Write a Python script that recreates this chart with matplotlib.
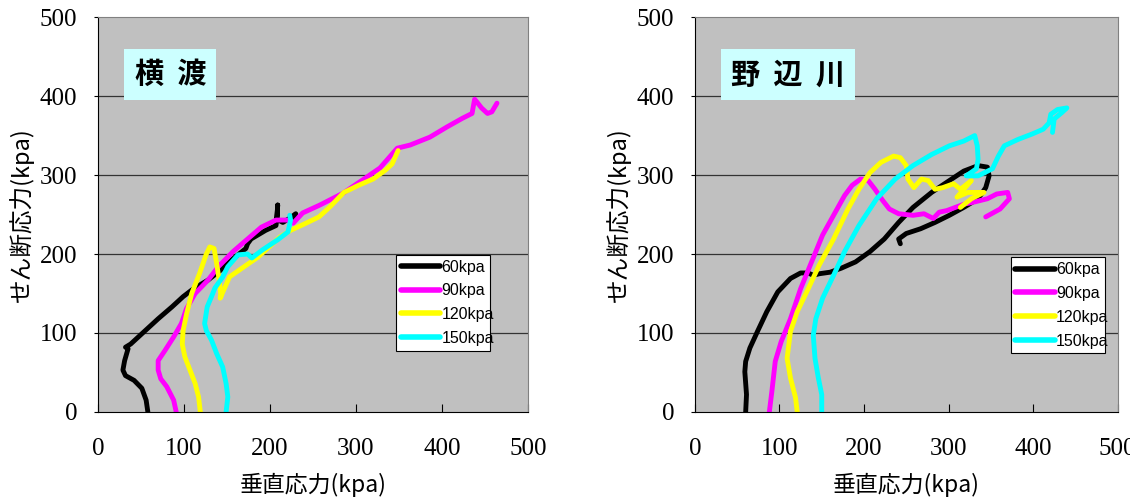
import matplotlib
matplotlib.use("Agg")
import matplotlib.pyplot as plt

plt.rcParams['font.family'] = ['Noto Sans CJK JP', 'DejaVu Sans']

labels = ['60kpa', '90kpa', '120kpa', '150kpa']
colors = ['#000000', '#ff00ff', '#ffff00', '#00ffff']

# 横渡 (left)
yoko_60_x = [58, 56, 51, 42, 32, 29, 31, 35, 32, 38, 53, 70, 86, 99, 111, 128, 142, 157, 172, 174, 178, 195, 207, 208, 209, 208, 215, 224, 230, 228]
yoko_60_y = [0, 15, 30, 40, 46, 53, 65, 80, 82, 86, 101, 118, 133, 146, 156, 167, 179, 194, 207, 213, 219, 230, 236, 244, 262, 244, 240, 246, 251, 246]
yoko_90_x = [91, 88, 80, 73, 70, 70, 78, 88, 97, 103, 113, 128, 140, 157, 174, 190, 207, 220, 227, 238, 258, 285, 308, 328, 348, 363, 386, 406, 424, 435, 438, 441, 446, 453, 458, 464]
yoko_90_y = [0, 15, 32, 42, 53, 65, 78, 95, 112, 131, 150, 167, 184, 203, 219, 234, 243, 243, 239, 252, 262, 277, 294, 309, 334, 338, 348, 361, 372, 378, 396, 392, 385, 378, 380, 391]
yoko_120_x = [119, 117, 113, 107, 101, 98, 99, 103, 109, 118, 126, 130, 135, 138, 141, 143, 142, 153, 170, 186, 199, 211, 224, 240, 257, 270, 286, 303, 320, 334, 342, 349]
yoko_120_y = [0, 19, 36, 53, 70, 86, 103, 124, 150, 175, 200, 209, 207, 188, 167, 146, 144, 171, 184, 196, 209, 221, 230, 238, 247, 260, 278, 287, 295, 306, 314, 331]
yoko_150_x = [149, 151, 149, 145, 138, 132, 126, 124, 127, 132, 136, 138, 145, 151, 163, 174, 179, 191, 209, 221, 224, 223]
yoko_150_y = [0, 19, 36, 57, 74, 91, 103, 112, 133, 146, 157, 160, 171, 184, 199, 200, 195, 205, 218, 228, 243, 249]

# 野辺川 (right)
nobe_60_x = [60, 61, 59, 60, 65, 74, 85, 98, 113, 125, 134, 140, 147, 160, 173, 190, 207, 224, 241, 258, 280, 301, 318, 335, 346, 348, 344, 335, 318, 301, 284, 267, 250, 241, 243]
nobe_60_y = [0, 22, 51, 64, 81, 102, 127, 152, 169, 176, 176, 173, 175, 177, 182, 190, 203, 219, 240, 259, 278, 293, 305, 312, 310, 299, 284, 270, 259, 249, 240, 232, 226, 219, 213]
nobe_90_x = [88, 91, 95, 102, 113, 125, 138, 151, 164, 177, 186, 196, 205, 213, 222, 230, 241, 258, 271, 282, 289, 298, 308, 318, 331, 346, 357, 370, 372, 361, 344]
nobe_90_y = [0, 26, 64, 89, 118, 156, 190, 224, 249, 274, 287, 295, 293, 282, 268, 257, 251, 249, 251, 245, 253, 255, 259, 263, 266, 270, 276, 278, 270, 257, 247]
nobe_120_x = [121, 119, 113, 109, 113, 121, 134, 147, 164, 181, 194, 207, 220, 235, 243, 250, 252, 259, 268, 276, 284, 293, 306, 314, 327, 310, 323, 342, 327, 314]
nobe_120_y = [0, 18, 43, 68, 102, 127, 156, 186, 219, 257, 282, 303, 316, 324, 322, 312, 295, 284, 295, 293, 282, 284, 289, 282, 293, 272, 278, 278, 270, 259]
nobe_150_x = [150, 150, 146, 142, 140, 143, 151, 164, 177, 194, 215, 237, 258, 280, 301, 318, 331, 334, 335, 333, 321, 335, 352, 359, 366, 382, 399, 412, 419, 421, 429, 440, 434, 425, 423]
nobe_150_y = [0, 22, 43, 68, 97, 118, 144, 173, 203, 236, 270, 295, 312, 326, 337, 343, 350, 337, 320, 308, 299, 299, 308, 324, 337, 345, 352, 358, 366, 377, 383, 385, 379, 371, 354]

ticks = [0, 100, 200, 300, 400, 500]

panels = [
    ('横  渡', [(yoko_60_x, yoko_60_y), (yoko_90_x, yoko_90_y), (yoko_120_x, yoko_120_y), (yoko_150_x, yoko_150_y)],
     [0.0867, 0.181, 0.3805, 0.785], (0.674, 0.135, 0.257, 0.251), 0.085),
    ('野  辺  川', [(nobe_60_x, nobe_60_y), (nobe_90_x, nobe_90_y), (nobe_120_x, nobe_120_y), (nobe_150_x, nobe_150_y)],
     [0.615, 0.181, 0.374, 0.785], (0.728, 0.128, 0.26, 0.253), 0.085),
]

fig = plt.figure(figsize=(11.3, 5.03), dpi=100)

for title, series, rect, legbox, tx in panels:
    ax = fig.add_axes(rect)
    ax.set_facecolor('#c0c0c0')
    for (x, y), c, lab in zip(series, colors, labels):
        ax.plot(x, y, color=c, lw=3.5, label=lab, solid_capstyle='round', solid_joinstyle='round')
    ax.set_xlim(0, 500)
    ax.set_ylim(0, 500)
    ax.set_xticks(ticks)
    ax.set_xticklabels([str(t) for t in ticks], fontfamily='Liberation Serif', fontsize=18)
    ax.set_yticks(ticks)
    ax.set_yticklabels([str(t) for t in ticks], fontfamily='Liberation Serif', fontsize=18)
    for v in [100, 200, 300, 400]:
        ax.axhline(v, color='#333333', lw=0.9, zorder=0.5)
    ax.tick_params(axis='x', direction='in', length=6, pad=19)
    ax.tick_params(axis='y', direction='out', length=3, pad=12)
    for s in ['top', 'right']:
        ax.spines[s].set_color('#808080')
    ax.set_xlabel('垂直応力(kpa)', fontsize=16.5, labelpad=9)
    ax.set_ylabel('せん断応力(kpa)', fontsize=17, labelpad=4)
    ax.text(tx, 0.855, title, transform=ax.transAxes, fontsize=21, fontweight='bold',
            va='center', ha='left',
            bbox=dict(boxstyle='square,pad=0.35', fc='#ccffff', ec='none'))
    leg = ax.legend(loc='lower left', bbox_to_anchor=legbox, mode='expand', fancybox=False,
                    edgecolor='black', framealpha=1, handlelength=2.5, borderpad=0.3,
                    labelspacing=0.55, handletextpad=0.05,
                    prop={'family': 'Liberation Sans', 'size': 11.5})
    leg.get_frame().set_linewidth(0.8)
    for h in leg.get_lines():
        h.set_linewidth(4)

fig.savefig('out.png', dpi=100)
